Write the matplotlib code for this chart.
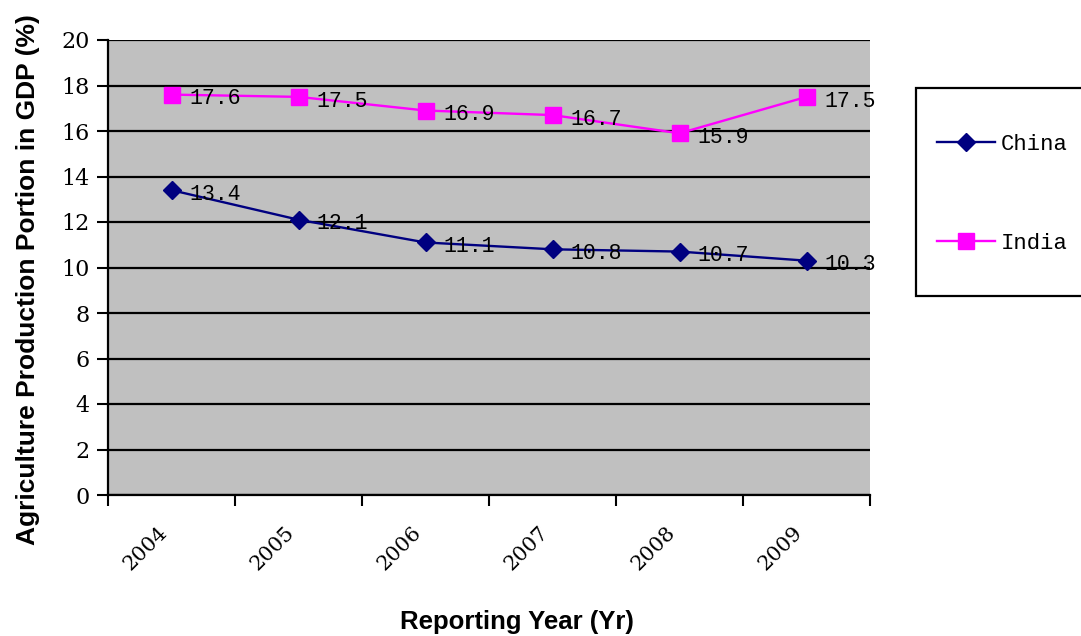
import matplotlib
matplotlib.use('Agg')
import matplotlib.pyplot as plt
import matplotlib.transforms as mtransforms
from matplotlib.patches import Rectangle
import numpy as np

years = ['2004', '2005', '2006', '2007', '2008', '2009']
china = [13.4, 12.1, 11.1, 10.8, 10.7, 10.3]
india = [17.6, 17.5, 16.9, 16.7, 15.9, 17.5]

W, H = 1081, 636
fig = plt.figure(figsize=(W / 100, H / 100), dpi=100)
ax = fig.add_axes([108 / W, 1 - 495 / H, (870 - 108) / W, (495 - 40) / H])
ax.set_facecolor('#C0C0C0')

x = np.arange(len(years)) + 0.5
ax.plot(x, china, color='#000080', marker='D', markersize=9, linewidth=1.7, label='China')
ax.plot(x, india, color='#FF00FF', marker='s', markersize=11, linewidth=1.7, label='India')

for xi, v in zip(x, china):
    ax.annotate('%.1f' % v, (xi, v), xytext=(13, -3), textcoords='offset points',
                va='center', ha='left', family='Liberation Mono', fontsize=15.5)
for xi, v in zip(x, india):
    ax.annotate('%.1f' % v, (xi, v), xytext=(13, -3), textcoords='offset points',
                va='center', ha='left', family='Liberation Mono', fontsize=15.5)

ax.set_xlim(0, len(years))
ax.set_ylim(0, 20)
ax.set_yticks(np.arange(0, 21, 2))
ax.set_xticks(np.arange(0, len(years) + 1))
ax.set_xticklabels([])
ax.set_xticks(x, minor=True)
ax.set_xticklabels(years, minor=True, rotation=45, ha='right', va='top',
                   family='DejaVu Serif', fontsize=15)
shift = mtransforms.ScaledTranslation(-16 / 100, 0, fig.dpi_scale_trans)
for lab in ax.get_xticklabels(minor=True):
    lab.set_transform(lab.get_transform() + shift)
ax.tick_params(axis='x', which='minor', length=0, pad=20)
ax.tick_params(axis='x', which='major', length=8, width=1.5, direction='out')
ax.tick_params(axis='y', length=8, width=1.5, direction='out', labelsize=16, pad=5)
for lab in ax.get_yticklabels():
    lab.set_family('DejaVu Serif')

ax.grid(axis='y', color='black', linewidth=1.6)
ax.set_axisbelow(True)
for s in ['top', 'right']:
    ax.spines[s].set_visible(False)
for s in ['left', 'bottom']:
    ax.spines[s].set_linewidth(1.6)

fig.text(28 / W, 1 - 280 / H, 'Agriculture Production Portion in GDP (%)',
         family='Liberation Sans', fontweight='bold', fontsize=19,
         rotation=90, ha='center', va='center')
fig.text(517 / W, 1 - 622 / H, 'Reporting Year (Yr)', family='Liberation Sans',
         fontweight='bold', fontsize=18.5, ha='center', va='center')

# legend box
fig.patches.append(Rectangle((916 / W, 1 - 296 / H), (1090 - 916) / W, 208 / H,
                             transform=fig.transFigure, facecolor='white',
                             edgecolor='black', linewidth=1.6, zorder=1))
leg = fig.legend(loc='center left', bbox_to_anchor=(937 / W, 1 - 194 / H),
                 prop={'family': 'Liberation Mono', 'size': 16},
                 handlelength=2.6, handletextpad=0.25, labelspacing=3.5,
                 borderpad=0, borderaxespad=0, frameon=False)

fig.savefig('out.png', dpi=100)
